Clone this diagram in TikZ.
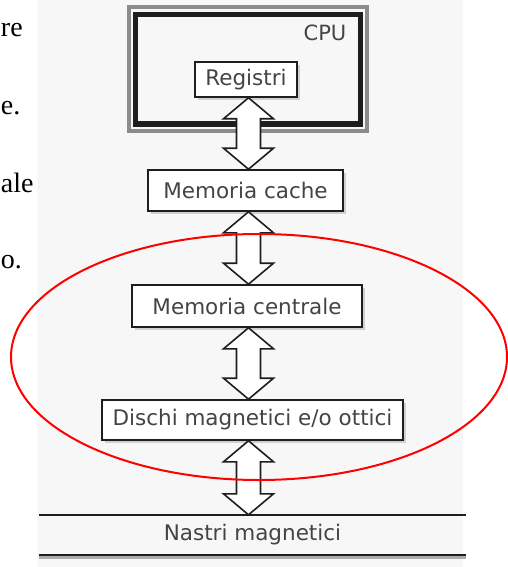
\documentclass[tikz,border=0pt]{standalone}
\usepackage{fontspec}
\usetikzlibrary{calc,shadows}
\newfontfamily\boxfont{DejaVu Sans}
\newfontfamily\testofont{Liberation Serif}
\definecolor{fcarta}{HTML}{F7F7F7}
\definecolor{slinea}{HTML}{1E1E1E}
\definecolor{stesto}{HTML}{444444}
\definecolor{fombra}{HTML}{ABABAB}
\definecolor{scpu}{HTML}{8C8C8C}
\definecolor{sanello}{HTML}{FF0000}

\tikzset{
  memoria/.style={draw=slinea,line width=1.6pt,fill=white,text=stesto,inner sep=0pt,
    font=\boxfont\fontsize{21.5}{25}\selectfont,
    drop shadow={shadow xshift=3pt,shadow yshift=-3pt,fill=fombra}},
  nastro/.style={text=stesto,inner sep=0pt,font=\boxfont\fontsize{21.5}{25}\selectfont},
  cpubox/.style={draw=slinea,line width=5pt,inner sep=0pt},
  freccia/.style={draw=slinea,line width=1.6pt,fill=white,line join=miter},
  frammento/.style={anchor=base west,inner sep=0pt,font=\testofont\fontsize{28}{32}\selectfont}
}
\newcommand\doppiafreccia[2]{%
  \draw[freccia] (#1.south -| asse) -- ++(25,21) -- ++(-13,0)
    -- ($(#2.north -| asse)+(12,-21)$) -- ++(13,0) -- (#2.north -| asse)
    -- ++(-25,-21) -- ++(13,0) -- ($(#1.south -| asse)+(-12,21)$) -- ++(-13,0) -- cycle;}

\begin{document}
\begin{tikzpicture}[x=1pt,y=-1pt]
\useasboundingbox (0,0) rectangle (507,567);
\fill[fcarta] (37,0) rectangle (463,567);
% testo tagliato a sinistra
\node[frammento] (fr1) at (0.8,37) {re};
\node[frammento] (fr2) at (0.8,115) {e.};
\node[frammento] (fr3) at (0.8,192) {ale};
\node[frammento] (fr4) at (0.8,268) {o.};
% CPU
\node[cpubox,minimum width=224.5pt,minimum height=109.5pt] (cpu) at (247.75,69.25) {};
\draw[scpu,line width=4pt] ($(cpu.north west)+(-4.5,-4.5)$) rectangle ($(cpu.south east)+(4.5,4.5)$);
\node[nastro,font=\boxfont\fontsize{21}{25}\selectfont] (cpulabel) at (325,32.5) {CPU};
% livelli
\node[memoria,minimum width=102pt,minimum height=35pt] (registri) at (246,79.5) {Registri};
\node[memoria,minimum width=195pt,minimum height=41pt] (cache) at (245.5,190.5) {Memoria cache};
\node[memoria,minimum width=230pt,minimum height=42pt] (centrale) at (247,306) {Memoria centrale};
\node[memoria,minimum width=301pt,minimum height=40pt] (dischi) at (252.5,420) {Dischi magnetici e/o ottici};
\node[nastro,minimum width=426pt,minimum height=40pt] (nastri) at (252.5,535) {Nastri magnetici};
\draw[fombra,line width=3pt] ([yshift=-2.5pt]nastri.south west) -- ([yshift=-2.5pt]nastri.south east);
\draw[slinea,line width=1.6pt] (nastri.north west) -- (nastri.north east);
\draw[slinea,line width=1.6pt] (nastri.south west) -- (nastri.south east);
% frecce
\coordinate (asse) at (248.5,0);
\doppiafreccia{registri}{cache}
\doppiafreccia{cache}{centrale}
\doppiafreccia{centrale}{dischi}
\doppiafreccia{dischi}{nastri}
% evidenziazione
\draw[sanello,line width=2pt] (259,357) ellipse [x radius=248pt,y radius=123pt];
\end{tikzpicture}
\end{document}
